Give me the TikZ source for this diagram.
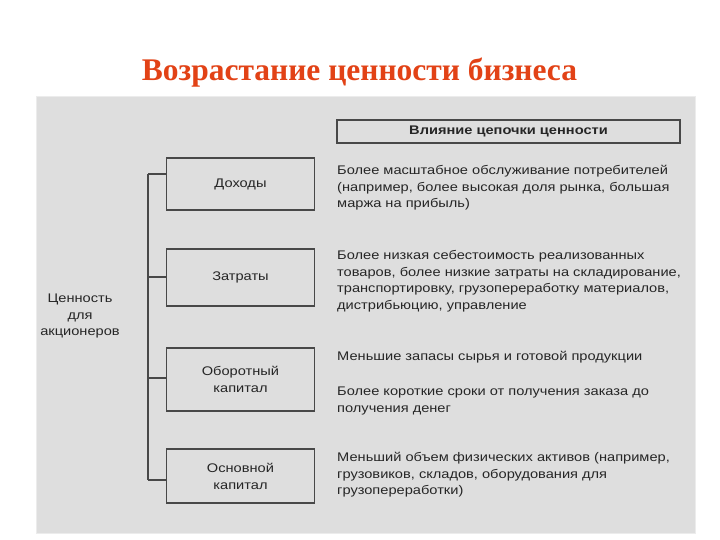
\documentclass[tikz,border=0pt]{standalone}
\usepackage{fontspec}
\setmainfont{Liberation Serif}
\setsansfont{Liberation Sans}
\newfontfamily\scanfont[FakeStretch=1.17]{Liberation Sans}
\usepackage{tikz}
\usetikzlibrary{positioning, calc}
\definecolor{titlered}{RGB}{226,66,22}
\definecolor{panelgray}{RGB}{222,222,222}
\definecolor{panelframe}{RGB}{236,236,236}
\definecolor{inkdark}{RGB}{38,38,38}
\definecolor{boxframe}{RGB}{72,72,72}
\tikzset{
  factor/.style={rectangle, draw=boxframe, line width=1.4pt,
    minimum width=148pt, align=center, font=\scanfont\fontsize{12.5}{17}\selectfont,
    text=inkdark, inner sep=0pt},
  effect/.style={anchor=north west, align=left, inner sep=0pt,
    font=\scanfont\fontsize{12.5}{16.7}\selectfont, text=inkdark},
  line/.style={line width=1.3pt, color=boxframe}
}
\begin{document}
\begin{tikzpicture}[x=1pt, y=-1pt]
  \useasboundingbox[fill=white] (0,0) rectangle (720,540);
  \node[anchor=base, font=\bfseries\fontsize{31.5}{33}\selectfont, text=titlered] (title) at (359.5,81) {Возрастание ценности бизнеса};
  \draw[fill=panelgray, draw=panelframe, line width=1pt] (36,97) rectangle (695,533);
  \node[rectangle, draw=boxframe, line width=1.2pt, minimum width=343pt, minimum height=23pt,
    font=\scanfont\bfseries\fontsize{12.5}{13}\selectfont, text=inkdark] (hdr) at (508.5,131.5) {Влияние цепочки ценности};

  % left column
  \node[factor, minimum height=52pt] (rev)  at (240.5,184)   {Доходы};
  \node[factor, minimum height=57pt] (cost) at (240.5,277.5) {Затраты};
  \node[factor, minimum height=63pt] (wcap) at (240.5,379.5) {Оборотный\\капитал};
  \node[factor, minimum height=54pt] (fcap) at (240.5,476)   {Основной\\капитал};
  \node[align=center, font=\scanfont\fontsize{12.5}{16.5}\selectfont, text=inkdark] (holder) at (80,316) {Ценность\\для\\акционеров};

  % tree
  \coordinate (t1) at (148,174);
  \coordinate (t2) at (148,277);
  \coordinate (t3) at (148,378);
  \coordinate (t4) at (148,480);
  \draw[line] (t1) -- (t4);
  \draw[line] (t1) -- (t1 -| rev.west);
  \draw[line] (t2) -- (t2 -| cost.west);
  \draw[line] (t3) -- (t3 -| wcap.west);
  \draw[line] (t4) -- (t4 -| fcap.west);

  % right column
  \node[effect] (erev)  at (337,165) {Более масштабное обслуживание потребителей\\(например, более высокая доля рынка, большая\\маржа на прибыль)};
  \node[effect] (ecost) at (337,250) {Более низкая себестоимость реализованных\\товаров, более низкие затраты на складирование,\\транспортировку, грузопереработку материалов,\\дистрибьюцию, управление};
  \node[effect] (ewcap) at (337,351) {Меньшие запасы сырья и готовой продукции};
  \node[effect] (ewday) at (337,387) {Более короткие сроки от получения заказа до\\получения денег};
  \node[effect] (efcap) at (337,452) {Меньший объем физических активов (например,\\грузовиков, складов, оборудования для\\грузопереработки)};
\end{tikzpicture}
\end{document}
